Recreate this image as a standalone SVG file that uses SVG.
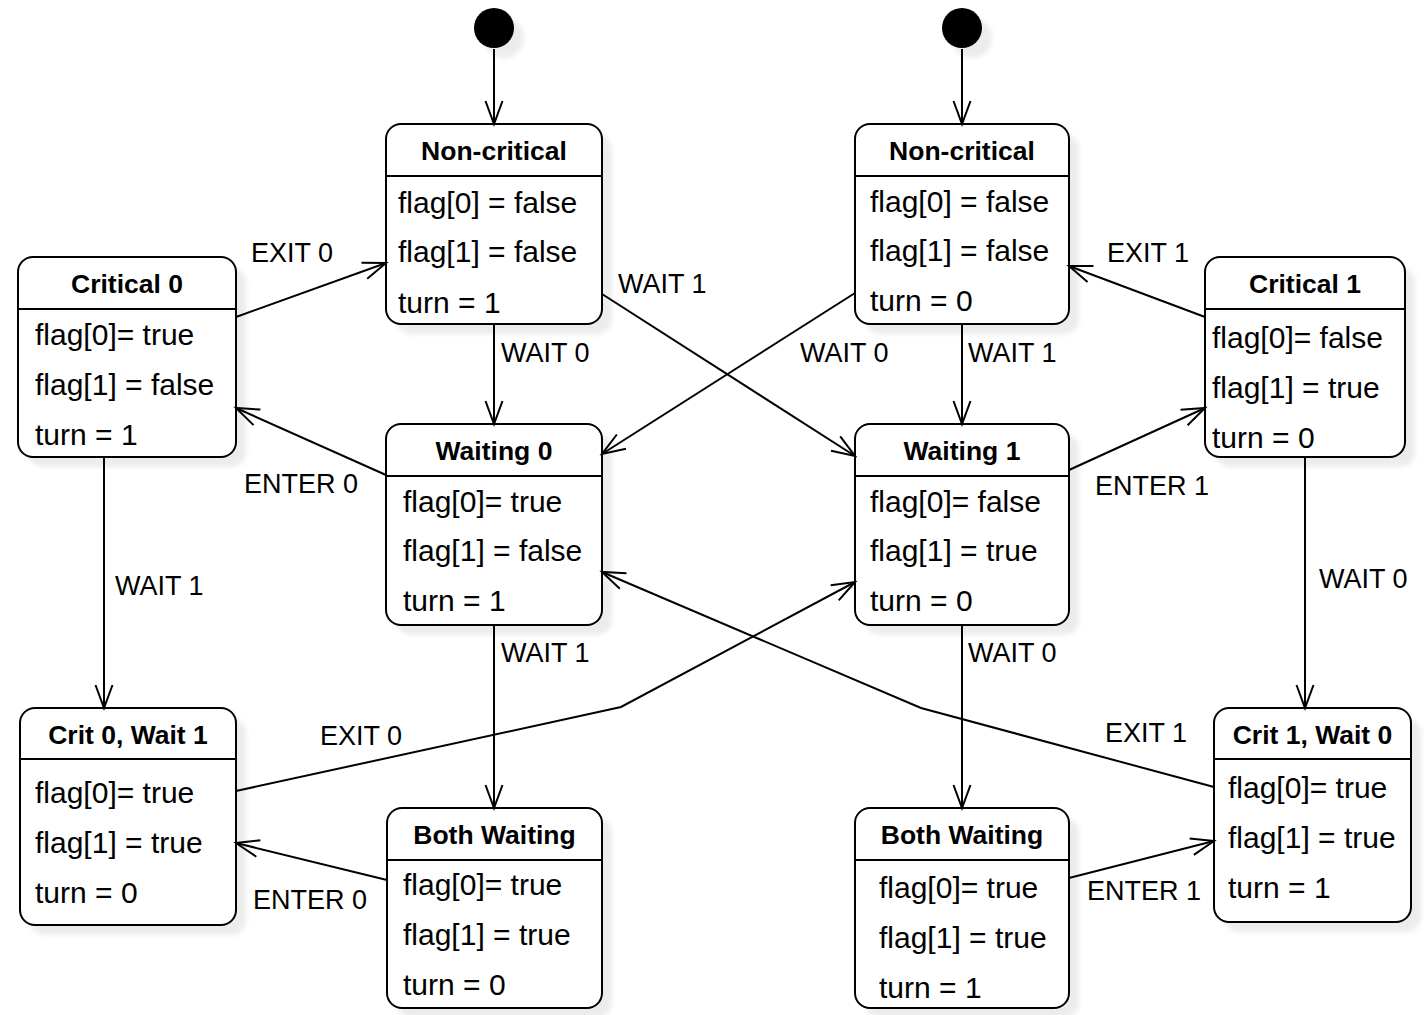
<svg xmlns="http://www.w3.org/2000/svg" width="1426" height="1015" viewBox="0 0 1426 1015">
<defs>
<style>
.sh{fill:#ececec;filter:url(#blur)}
.box{fill:#fff;stroke:#000;stroke-width:2}
.hl{stroke:#000;stroke-width:2}
.t{font-family:"Liberation Sans",Arial,sans-serif;font-size:26.5px;font-weight:bold;text-anchor:middle;fill:#000}
.r{font-family:"Liberation Sans",Arial,sans-serif;font-size:30px;fill:#000}
.lb{font-family:"Liberation Sans",Arial,sans-serif;font-size:27px;fill:#000}
.e{fill:none;stroke:#000;stroke-width:2;marker-end:url(#arr)}
</style>
<filter id="blur" x="-10%" y="-10%" width="130%" height="130%"><feGaussianBlur stdDeviation="2.5"/></filter>
<marker id="arr" viewBox="-26 -13 30 26" markerWidth="30" markerHeight="26" refX="0" refY="0" orient="auto" markerUnits="userSpaceOnUse"><path d="M-23,-8.5 L0,0 L-23,8.5" fill="none" stroke="#000" stroke-width="2"/></marker>
</defs>
<rect width="1426" height="1015" fill="#fff"/>

<g id="init0"><circle cx="504" cy="38" r="20" class="sh"/><circle cx="494" cy="28" r="20" fill="#000"/></g>
<g id="init1"><circle cx="972" cy="38" r="20" class="sh"/><circle cx="962" cy="28" r="20" fill="#000"/></g>

<g id="noncrit0">
<rect x="396" y="134" width="216" height="200" rx="15" class="sh"/>
<rect x="386" y="124" width="216" height="200" rx="15" class="box"/>
<line x1="386" y1="176" x2="602" y2="176" class="hl"/>
<text x="494" y="160" class="t">Non-critical</text>
<text x="398" y="213" class="r">flag[0] = false</text>
<text x="398" y="262" class="r">flag[1] = false</text>
<text x="398" y="313" class="r">turn = 1</text>
</g>

<g id="noncrit1">
<rect x="865" y="134" width="214" height="200" rx="15" class="sh"/>
<rect x="855" y="124" width="214" height="200" rx="15" class="box"/>
<line x1="855" y1="176" x2="1069" y2="176" class="hl"/>
<text x="962" y="160" class="t">Non-critical</text>
<text x="870" y="212" class="r">flag[0] = false</text>
<text x="870" y="261" class="r">flag[1] = false</text>
<text x="870" y="311" class="r">turn = 0</text>
</g>

<g id="critical0">
<rect x="28" y="267" width="218" height="200" rx="15" class="sh"/>
<rect x="18" y="257" width="218" height="200" rx="15" class="box"/>
<line x1="18" y1="309" x2="236" y2="309" class="hl"/>
<text x="127" y="293" class="t">Critical 0</text>
<text x="35" y="345" class="r">flag[0]= true</text>
<text x="35" y="395" class="r">flag[1] = false</text>
<text x="35" y="445" class="r">turn = 1</text>
</g>

<g id="critical1">
<rect x="1215" y="267" width="200" height="200" rx="15" class="sh"/>
<rect x="1205" y="257" width="200" height="200" rx="15" class="box"/>
<line x1="1205" y1="309" x2="1405" y2="309" class="hl"/>
<text x="1305" y="293" class="t">Critical 1</text>
<text x="1212" y="348" class="r">flag[0]= false</text>
<text x="1212" y="398" class="r">flag[1] = true</text>
<text x="1212" y="448" class="r">turn = 0</text>
</g>

<g id="waiting0">
<rect x="396" y="434" width="216" height="201" rx="15" class="sh"/>
<rect x="386" y="424" width="216" height="201" rx="15" class="box"/>
<line x1="386" y1="476" x2="602" y2="476" class="hl"/>
<text x="494" y="460" class="t">Waiting 0</text>
<text x="403" y="512" class="r">flag[0]= true</text>
<text x="403" y="561" class="r">flag[1] = false</text>
<text x="403" y="611" class="r">turn = 1</text>
</g>

<g id="waiting1">
<rect x="865" y="434" width="214" height="201" rx="15" class="sh"/>
<rect x="855" y="424" width="214" height="201" rx="15" class="box"/>
<line x1="855" y1="476" x2="1069" y2="476" class="hl"/>
<text x="962" y="460" class="t">Waiting 1</text>
<text x="870" y="512" class="r">flag[0]= false</text>
<text x="870" y="561" class="r">flag[1] = true</text>
<text x="870" y="611" class="r">turn = 0</text>
</g>

<g id="crit0wait1">
<rect x="30" y="718" width="216" height="217" rx="15" class="sh"/>
<rect x="20" y="708" width="216" height="217" rx="15" class="box"/>
<line x1="20" y1="759" x2="236" y2="759" class="hl"/>
<text x="128" y="744" class="t">Crit 0, Wait 1</text>
<text x="35" y="803" class="r">flag[0]= true</text>
<text x="35" y="853" class="r">flag[1] = true</text>
<text x="35" y="903" class="r">turn = 0</text>
</g>

<g id="bothwaiting0">
<rect x="397" y="818" width="215" height="200" rx="15" class="sh"/>
<rect x="387" y="808" width="215" height="200" rx="15" class="box"/>
<line x1="387" y1="860" x2="602" y2="860" class="hl"/>
<text x="494.5" y="844" class="t">Both Waiting</text>
<text x="403" y="895" class="r">flag[0]= true</text>
<text x="403" y="945" class="r">flag[1] = true</text>
<text x="403" y="995" class="r">turn = 0</text>
</g>

<g id="bothwaiting1">
<rect x="865" y="818" width="214" height="200" rx="15" class="sh"/>
<rect x="855" y="808" width="214" height="200" rx="15" class="box"/>
<line x1="855" y1="860" x2="1069" y2="860" class="hl"/>
<text x="962" y="844" class="t">Both Waiting</text>
<text x="879" y="898" class="r">flag[0]= true</text>
<text x="879" y="948" class="r">flag[1] = true</text>
<text x="879" y="998" class="r">turn = 1</text>
</g>

<g id="crit1wait0">
<rect x="1224" y="718" width="197" height="214" rx="15" class="sh"/>
<rect x="1214" y="708" width="197" height="214" rx="15" class="box"/>
<line x1="1214" y1="759" x2="1411" y2="759" class="hl"/>
<text x="1312.5" y="744" class="t">Crit 1, Wait 0</text>
<text x="1228" y="798" class="r">flag[0]= true</text>
<text x="1228" y="848" class="r">flag[1] = true</text>
<text x="1228" y="898" class="r">turn = 1</text>
</g>

<g id="connectors">
<path class="e" d="M494,49 L494,124"/>
<path class="e" d="M962,49 L962,124"/>
<path class="e" d="M236,317 L386,263"/>
<path class="e" d="M494,324 L494,424"/>
<path class="e" d="M602,294 L855,456"/>
<path class="e" d="M855,293 L602,454"/>
<path class="e" d="M962,324 L962,424"/>
<path class="e" d="M1205,317 L1069,266"/>
<path class="e" d="M386,475 L236,408"/>
<path class="e" d="M1069,470 L1205,408"/>
<path class="e" d="M104,457 L104,708"/>
<path class="e" d="M1305,457 L1305,708"/>
<path class="e" d="M494,625 L494,808"/>
<path class="e" d="M962,625 L962,808"/>
<path class="e" d="M236,791 L621,707 L855,582"/>
<path class="e" d="M1214,787 L921,708 L602,572"/>
<path class="e" d="M387,880 L236,843"/>
<path class="e" d="M1069,878 L1214,841"/>
<text x="251" y="262" class="lb">EXIT 0</text>
<text x="501" y="362" class="lb">WAIT 0</text>
<text x="618" y="293" class="lb">WAIT 1</text>
<text x="800" y="362" class="lb">WAIT 0</text>
<text x="968" y="362" class="lb">WAIT 1</text>
<text x="1107" y="262" class="lb">EXIT 1</text>
<text x="244" y="493" class="lb">ENTER 0</text>
<text x="1095" y="495" class="lb">ENTER 1</text>
<text x="115" y="595" class="lb">WAIT 1</text>
<text x="1319" y="588" class="lb">WAIT 0</text>
<text x="501" y="662" class="lb">WAIT 1</text>
<text x="968" y="662" class="lb">WAIT 0</text>
<text x="320" y="745" class="lb">EXIT 0</text>
<text x="1105" y="742" class="lb">EXIT 1</text>
<text x="253" y="909" class="lb">ENTER 0</text>
<text x="1087" y="900" class="lb">ENTER 1</text>
</g>
</svg>
